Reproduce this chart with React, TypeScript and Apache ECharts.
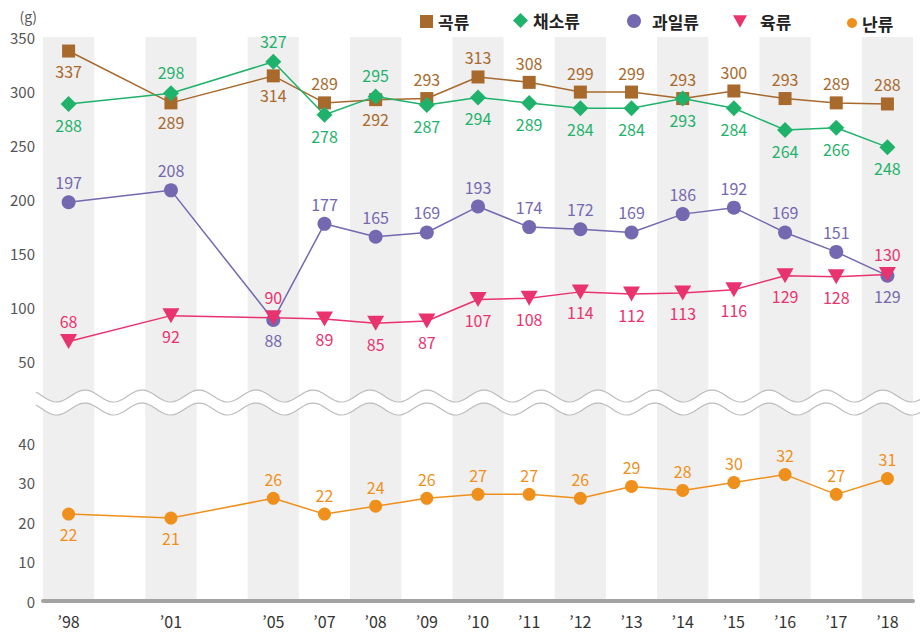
import { useEffect, useRef } from "react";
import * as echarts from "echarts";

// x slots: blanks keep the uneven spacing of the survey years
const categories = ["’98", "", "’01", "", "’05", "’07", "’08", "’09", "’10", "’11", "’12", "’13", "’14", "’15", "’16", "’17", "’18"];

const seriesNames = ["곡류", "채소류", "과일류", "육류", "난류"];
const grain = [337, 289, 314, 289, 292, 293, 313, 308, 299, 299, 293, 300, 293, 289, 288];
const vegetables = [288, 298, 327, 278, 295, 287, 294, 289, 284, 284, 293, 284, 264, 266, 248];
const fruits = [197, 208, 88, 177, 165, 169, 193, 174, 172, 169, 186, 192, 169, 151, 129];
const meat = [68, 92, 90, 89, 85, 87, 107, 108, 114, 112, 113, 116, 129, 128, 130];
const eggs = [22, 21, 26, 22, 24, 26, 27, 27, 26, 29, 28, 30, 32, 27, 31];

const topAxisTicks = [0, 350, 50];
const bottomAxisTicks = [0, 50, 10];

// label placement (style)
const T = "top";
const B = "bottom";
const grainPos = [B, B, B, T, B, T, T, T, T, T, T, T, T, T, T];
const vegPos = [B, T, T, B, T, B, B, B, B, B, B, B, B, B, B];
const fruitPos = [T, T, B, T, T, T, T, T, T, T, T, T, T, T, B];
const meatPos = [T, B, T, B, B, B, B, B, B, B, B, B, B, B, T];
const eggPos = [B, B, T, T, T, T, T, T, T, T, T, T, T, T, T];

const colors = ["#a8692c", "#1fb26b", "#7468b0", "#e8336f", "#f0901c"];
const FONT = "'Noto Sans CJK KR', 'Noto Sans', sans-serif";

export default function App() {
  const ref = useRef<HTMLDivElement>(null);

  useEffect(() => {
    document.body.style.margin = "0";
    if (!ref.current) return;
    const chart = echarts.init(ref.current, undefined, { renderer: "svg" });

    const slots = categories.map((c, i) => (c ? i : -1)).filter((i) => i >= 0);
    const build = (vals: number[], pos: string[]) =>
      vals.map((v, i) => ({ value: [slots[i], v], label: { position: pos[i] } }));

    const wave = (offset: number) => {
      const pts: number[][] = [];
      for (let x = 36; x <= 922; x += 2) {
        pts.push([x, 396 + offset - 6 * Math.cos((2 * Math.PI * (x - 85)) / 57)]);
      }
      return pts;
    };
    const up = wave(0);
    const low = wave(13);

    const mkSeries = (
      idx: number,
      vals: number[],
      pos: string[],
      symbol: string,
      size: number | number[],
      axis: number,
      rotate = 0
    ) => ({
      name: seriesNames[idx],
      type: "line",
      xAxisIndex: axis,
      yAxisIndex: axis,
      data: build(vals, pos),
      symbol,
      symbolSize: size,
      symbolRotate: rotate,
      lineStyle: { color: colors[idx], width: 1.5 },
      itemStyle: { color: colors[idx] },
      label: {
        show: true,
        color: colors[idx],
        fontSize: 16,
        fontFamily: FONT,
        distance: 5,
        formatter: (p: any) => String(p.value[1]),
      },
      z: 2 + idx,
    });

    const legendItem = (idx: number, left: number, icon: string, w: number, h: number, gap: number) => ({
      data: [seriesNames[idx]],
      left,
      top: 19.5 - h / 2,
      padding: 0,
      icon,
      itemWidth: w,
      itemHeight: h,
      selectedMode: false,
      textStyle: {
        fontSize: 17,
        fontWeight: "bold",
        color: "#222",
        fontFamily: FONT,
        padding: [0, 0, 6, gap],
      },
    });

    const splitArea = {
      show: true,
      interval: 0,
      areaStyle: { color: ["#efefef", "rgba(255,255,255,0)"] },
    };

    chart.setOption({
      animation: false,
      legend: [
        legendItem(0, 420, "rect", 13, 13, 0),
        legendItem(1, 513, "diamond", 15, 15, 0),
        legendItem(2, 627, "circle", 14, 14, 6),
        legendItem(3, 733, "path://M0,0 L10,0 L5,9 Z", 14, 13, 8),
        legendItem(4, 847, "circle", 10, 10, 0),
      ],
      grid: [
        { left: 43, right: 7, top: 37, height: 378 },
        { left: 43, right: 7, top: 403.5, bottom: 32 },
      ],
      xAxis: [
        {
          type: "category",
          gridIndex: 0,
          data: categories,
          boundaryGap: true,
          axisLine: { show: false },
          axisTick: { show: false },
          axisLabel: { show: false },
          splitArea,
        },
        {
          type: "category",
          gridIndex: 1,
          data: categories,
          boundaryGap: true,
          axisLine: { show: true, lineStyle: { color: "#a3a3a3", width: 4 } },
          axisTick: { show: false },
          axisLabel: { interval: 0, color: "#333", fontSize: 16, margin: 12, fontFamily: FONT },
          splitArea,
        },
      ],
      yAxis: [
        {
          type: "value",
          gridIndex: 0,
          min: topAxisTicks[0],
          max: topAxisTicks[1],
          interval: topAxisTicks[2],
          axisLine: { show: false },
          axisTick: { show: false },
          splitLine: { show: false },
          axisLabel: {
            color: "#555",
            fontSize: 15,
            margin: 8,
            fontFamily: FONT,
            formatter: (v: number) => (v === 0 ? "" : String(v)),
          },
        },
        {
          type: "value",
          gridIndex: 1,
          min: bottomAxisTicks[0],
          max: bottomAxisTicks[1],
          interval: bottomAxisTicks[2],
          axisLine: { show: false },
          axisTick: { show: false },
          splitLine: { show: false },
          axisLabel: {
            color: "#555",
            fontSize: 15,
            margin: 8,
            fontFamily: FONT,
            formatter: (v: number) => (v === 50 ? "" : String(v)),
          },
        },
      ],
      graphic: [
        {
          type: "polygon",
          z: 10,
          shape: { points: [...up, ...low.slice().reverse()] },
          style: { fill: "#ffffff" },
        },
        {
          type: "polyline",
          z: 11,
          shape: { points: up },
          style: { stroke: "#bbbbbb", lineWidth: 1.2, fill: "none" },
        },
        {
          type: "polyline",
          z: 11,
          shape: { points: low },
          style: { stroke: "#bbbbbb", lineWidth: 1.2, fill: "none" },
        },
        {
          type: "text",
          z: 11,
          x: 37,
          y: 16,
          style: {
            text: "(g)",
            fill: "#555",
            fontSize: 14,
            fontFamily: FONT,
            align: "right",
            verticalAlign: "middle",
          },
        },
      ],
      series: [
        mkSeries(0, grain, grainPos, "rect", 13, 0),
        mkSeries(1, vegetables, vegPos, "diamond", 16, 0),
        mkSeries(2, fruits, fruitPos, "circle", 14, 0),
        mkSeries(3, meat, meatPos, "triangle", [17, 15], 0, 180),
        mkSeries(4, eggs, eggPos, "circle", 13, 1),
      ],
    });

    return () => chart.dispose();
  }, []);

  return <div ref={ref} style={{ width: 920, height: 633 }} />;
}
